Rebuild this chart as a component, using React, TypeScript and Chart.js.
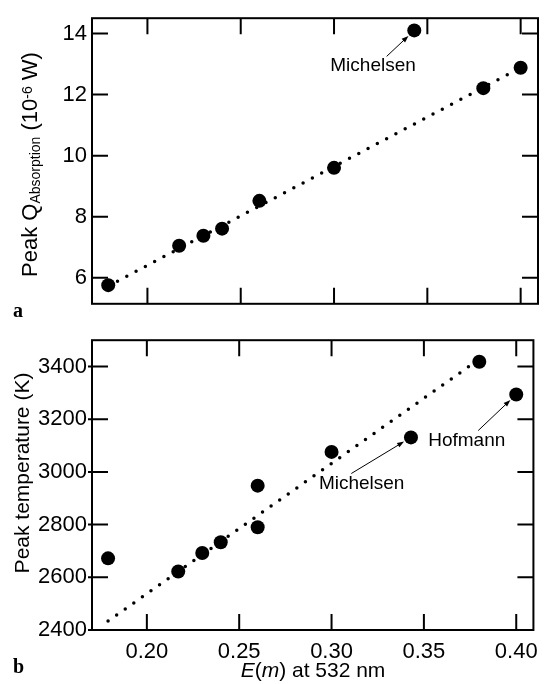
import React, { useEffect, useRef } from 'react';
import { Chart, registerables } from 'chart.js';
Chart.register(...registerables);

// ---- data (panel a) ----
const E_M_Q = [0.179, 0.217, 0.23, 0.24, 0.26, 0.30, 0.343, 0.38, 0.40];
const Q_ABS = [5.76, 7.05, 7.38, 7.61, 8.52, 9.60, 14.10, 12.21, 12.88];
const Q_FIT_X = [0.179, 0.40];
const Q_FIT_Y = [5.73, 12.88];
const Q_TICKS = [6, 8, 10, 12, 14];

// ---- data (panel b) ----
const E_M_T = [0.179, 0.217, 0.23, 0.24, 0.26, 0.26, 0.30, 0.343, 0.38, 0.40];
const T_PEAK = [2672, 2622, 2692, 2733, 2948, 2790, 3076, 3131, 3418, 3294];
const T_FIT_X = [0.179, 0.38];
const T_FIT_Y = [2434, 3428];
const T_TICKS = [2400, 2600, 2800, 3000, 3200, 3400];

const X_TICKS = [0.20, 0.25, 0.30, 0.35, 0.40];

// annotations: label, text anchor (data), arrow tail (data), index of pointed marker
const Q_NOTES = [{ label: 'Michelsen', at: [0.3209, 12.78], tail: [0.3282, 13.25], idx: 6 }];
const T_NOTES = [
  { label: 'Michelsen', at: [0.3163, 2937], tail: [0.3107, 2994], idx: 7 },
  { label: 'Hofmann', at: [0.3732, 3100], tail: [0.3794, 3157], idx: 9 },
];

const SANS = '"Liberation Sans", Arial, Helvetica, sans-serif';
const R = 7;
const TL = 16;

type Seg = { t: string; size: number; italic?: boolean; dy?: number };

function drawSegs(ctx: CanvasRenderingContext2D, segs: Seg[], cx: number, baseline: number) {
  const fontOf = (s: Seg) => `${s.italic ? 'italic ' : ''}${s.size}px ${SANS}`;
  let total = 0;
  const widths = segs.map((s) => {
    ctx.font = fontOf(s);
    const w = ctx.measureText(s.t).width;
    total += w;
    return w;
  });
  let x = cx - total / 2;
  ctx.textAlign = 'left';
  ctx.textBaseline = 'alphabetic';
  segs.forEach((s, i) => {
    ctx.font = fontOf(s);
    ctx.fillText(s.t, x, baseline + (s.dy || 0));
    x += widths[i];
  });
}

function makePlugin(cfg: {
  xs: number[]; ys: number[]; yTicks: number[]; notes: any[]; leftOut: number;
  drawTitles: (ctx: CanvasRenderingContext2D, chart: any) => void;
}) {
  return {
    id: 'frameAndNotes',
    beforeDatasetsDraw(chart: any) {
      const { ctx, chartArea: a, scales } = chart;
      ctx.save();
      ctx.strokeStyle = '#000';
      ctx.lineWidth = 2;
      ctx.strokeRect(a.left, a.top, a.right - a.left, a.bottom - a.top);
      ctx.beginPath();
      X_TICKS.forEach((v) => {
        const px = scales.x.getPixelForValue(v);
        ctx.moveTo(px, a.bottom); ctx.lineTo(px, a.bottom - TL);
        ctx.moveTo(px, a.top); ctx.lineTo(px, a.top + TL);
      });
      cfg.yTicks.forEach((v) => {
        const py = scales.y.getPixelForValue(v);
        ctx.moveTo(a.left - cfg.leftOut, py); ctx.lineTo(a.left + TL, py);
        ctx.moveTo(a.right, py); ctx.lineTo(a.right - TL, py);
      });
      ctx.stroke();
      ctx.restore();
    },
    afterDraw(chart: any) {
      const { ctx, scales } = chart;
      const xs = scales.x, ys = scales.y;
      ctx.save();
      ctx.fillStyle = '#000';
      ctx.strokeStyle = '#000';
      cfg.notes.forEach((n) => {
        const px = xs.getPixelForValue(cfg.xs[n.idx]);
        const py = ys.getPixelForValue(cfg.ys[n.idx]);
        const tx = xs.getPixelForValue(n.tail[0]);
        const ty = ys.getPixelForValue(n.tail[1]);
        const dx = px - tx, dy = py - ty;
        const len = Math.hypot(dx, dy);
        const ux = dx / len, uy = dy / len;
        const ex = px - ux * (R + 1), ey = py - uy * (R + 1);
        ctx.lineWidth = 1;
        ctx.beginPath();
        ctx.moveTo(tx, ty);
        ctx.lineTo(ex - ux * 5, ey - uy * 5);
        ctx.stroke();
        ctx.beginPath();
        ctx.moveTo(ex, ey);
        ctx.lineTo(ex - ux * 7 + uy * 2.5, ey - uy * 7 - ux * 2.5);
        ctx.lineTo(ex - ux * 7 - uy * 2.5, ey - uy * 7 + ux * 2.5);
        ctx.closePath();
        ctx.fill();
        ctx.font = `19px ${SANS}`;
        ctx.textAlign = 'center';
        ctx.textBaseline = 'alphabetic';
        ctx.fillText(n.label, xs.getPixelForValue(n.at[0]), ys.getPixelForValue(n.at[1]));
      });
      cfg.drawTitles(ctx, chart);
      ctx.restore();
    },
  };
}

function baseOptions(yMin: number, yMax: number, yTicks: number[], showX: boolean, padding: any, xHeight: number) {
  return {
    responsive: false,
    animation: false as const,
    devicePixelRatio: 1,
    layout: { padding },
    plugins: { legend: { display: false }, tooltip: { enabled: false } },
    scales: {
      x: {
        type: 'linear' as const,
        min: 0.1703,
        max: 0.4093,
        display: showX,
        grid: { display: false, drawTicks: false },
        border: { display: false },
        afterBuildTicks: (s: any) => { s.ticks = X_TICKS.map((v) => ({ value: v })); },
        afterFit: (s: any) => { s.height = xHeight; },
        ticks: {
          autoSkip: false, maxRotation: 0, padding: 9, color: '#000',
          font: { family: SANS, size: 22 },
          callback: (v: any) => Number(v).toFixed(2),
        },
      },
      y: {
        type: 'linear' as const,
        min: yMin,
        max: yMax,
        grid: { display: false, drawTicks: false },
        border: { display: false },
        afterBuildTicks: (s: any) => { s.ticks = yTicks.map((v) => ({ value: v })); },
        afterFit: (s: any) => { s.width = 92; },
        ticks: {
          autoSkip: false, padding: 5, color: '#000',
          font: { family: SANS, size: 22 },
          callback: (v: any) => String(v),
        },
      },
    },
  };
}

function datasets(xs: number[], ys: number[], fx: number[], fy: number[]) {
  return [
    {
      data: xs.map((x, i) => ({ x, y: ys[i] })),
      pointRadius: R,
      pointHoverRadius: R,
      pointBackgroundColor: '#000',
      pointBorderColor: '#000',
      pointBorderWidth: 0,
      showLine: false,
    },
    {
      data: fx.map((x, i) => ({ x, y: fy[i] })),
      showLine: true,
      pointRadius: 0,
      borderColor: '#000',
      borderWidth: 3.5,
      borderDash: [0, 10.5],
      borderCapStyle: 'round' as const,
      tension: 0,
      fill: false,
    },
  ];
}

export default function App() {
  const topRef = useRef<HTMLCanvasElement>(null);
  const botRef = useRef<HTMLCanvasElement>(null);

  useEffect(() => {
    const topPlugin = makePlugin({
      xs: E_M_Q, ys: Q_ABS, yTicks: Q_TICKS, notes: Q_NOTES, leftOut: 0,
      drawTitles: (ctx) => {
        ctx.save();
        ctx.translate(36.5, 164.5);
        ctx.rotate(-Math.PI / 2);
        drawSegs(ctx, [
          { t: 'Peak Q', size: 22 },
          { t: 'Absorption', size: 14, dy: 3.5 },
          { t: ' (10', size: 22 },
          { t: '-6', size: 14, dy: -4.5 },
          { t: ' W)', size: 22 },
        ], 0, 0);
        ctx.restore();
        ctx.font = `bold 20px "Liberation Serif", "Times New Roman", serif`;
        ctx.textAlign = 'left';
        ctx.textBaseline = 'alphabetic';
        ctx.fillText('a', 13, 317);
      },
    });
    const c1 = new Chart(topRef.current as HTMLCanvasElement, {
      type: 'scatter',
      data: { datasets: datasets(E_M_Q, Q_ABS, Q_FIT_X, Q_FIT_Y) as any },
      options: baseOptions(5.15, 14.5, Q_TICKS, false, { left: 0, right: 9, top: 13, bottom: 7 }, 0) as any,
      plugins: [topPlugin as any],
    });

    const botPlugin = makePlugin({
      xs: E_M_T, ys: T_PEAK, yTicks: T_TICKS, notes: T_NOTES, leftOut: 4,
      drawTitles: (ctx) => {
        ctx.save();
        ctx.translate(29, 151);
        ctx.rotate(-Math.PI / 2);
        drawSegs(ctx, [{ t: 'Peak temperature (K)', size: 21 }], 0, 0);
        ctx.restore();
        drawSegs(ctx, [
          { t: 'E', size: 21, italic: true },
          { t: '(', size: 21 },
          { t: 'm', size: 21, italic: true },
          { t: ') at 532 nm', size: 21 },
        ], 313, 355);
        ctx.font = `bold 20px "Liberation Serif", "Times New Roman", serif`;
        ctx.textAlign = 'left';
        ctx.textBaseline = 'alphabetic';
        ctx.fillText('b', 13, 351);
      },
    });
    const c2 = new Chart(botRef.current as HTMLCanvasElement, {
      type: 'scatter',
      data: { datasets: datasets(E_M_T, T_PEAK, T_FIT_X, T_FIT_Y) as any },
      options: baseOptions(2400, 3500, T_TICKS, true, { left: 0, right: 9, top: 5, bottom: 0 }, 54) as any,
      plugins: [botPlugin as any],
    });

    return () => { c1.destroy(); c2.destroy(); };
  }, []);

  return (
    <div style={{ position: 'absolute', left: 0, top: 0, width: 547, height: 684, background: '#fff' }}>
      <canvas ref={topRef} width={547} height={322} style={{ position: 'absolute', left: 0, top: 0 }} />
      <canvas ref={botRef} width={547} height={362} style={{ position: 'absolute', left: 0, top: 322 }} />
    </div>
  );
}
